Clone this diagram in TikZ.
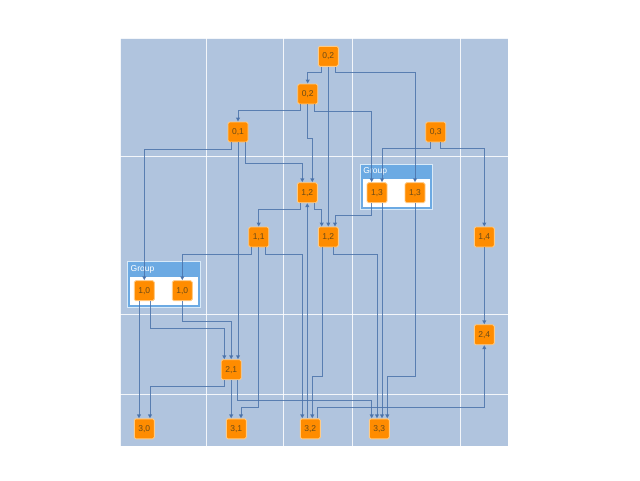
\documentclass[tikz,border=0pt]{standalone}
\usepackage{fontspec}
\setsansfont{Liberation Sans}
\usetikzlibrary{arrows.meta}
\definecolor{bgc}{HTML}{B0C4DE}
\definecolor{grpc}{HTML}{6CAAE3}
\definecolor{grpb}{HTML}{D8EAF9}
\definecolor{nodec}{HTML}{FF8C00}
\definecolor{nodeb}{HTML}{FFCB85}
\definecolor{edgec}{HTML}{4A72AA}
\definecolor{txtc}{HTML}{6A4A18}
\tikzset{
  nd/.style={rectangle, rounded corners=1.5pt, minimum size=20pt, inner sep=0pt,
    fill=nodec, draw=nodeb, line width=0.9pt, text=txtc,
    font=\sffamily\fontsize{8.5}{10}\selectfont},
  e/.style={draw=edgec, line width=1pt, draw opacity=0.85,
    -{Triangle[width=4pt,length=4pt]}},
  gridl/.style={draw=white, line width=0.8pt, opacity=0.85},
  grpouter/.style={fill=grpc, draw=grpb, line width=0.8pt},
  grpinner/.style={fill=white, draw=none},
  grplabel/.style={anchor=west, inner sep=0pt, text=white, font=\sffamily\fontsize{8.5}{10}\selectfont}
}
\begin{document}
\begin{tikzpicture}[x=1pt,y=-1pt]
\useasboundingbox (0,0) rectangle (640,480);
% background
\fill[bgc] (120,38) rectangle (508,446);
\foreach \gx in {120.5,206.7,283.3,352.3,460.3} \draw[gridl] (\gx,38) -- (\gx,446);
\foreach \gy in {38.5,156.3,314,394.3} \draw[gridl] (120,\gy) -- (508,\gy);
% groups
\draw[grpouter] (360,164) rectangle (432.3,209.5);
\fill[grpinner] (362.5,179) rectangle (429.8,207.2);
\node[grplabel] (g1) at (363.2,171) {Group};
\draw[grpouter] (127.5,261.3) rectangle (200,307.3);
\fill[grpinner] (130,276.7) rectangle (197.6,304.8);
\node[grplabel] (g2) at (130.5,269) {Group};
% nodes
\node[nd] (n02t) at (328.3,56.3) {0,2};
\node[nd] (n02) at (307.7,94) {0,2};
\node[nd] (n01) at (238,132) {0,1};
\node[nd] (n03) at (435.7,132) {0,3};
\node[nd] (n12a) at (307.3,192.7) {1,2};
\node[nd] (n13a) at (377,192.7) {1,3};
\node[nd] (n13b) at (415,192.7) {1,3};
\node[nd] (n11) at (258.7,237) {1,1};
\node[nd] (n12b) at (328.3,237) {1,2};
\node[nd] (n14) at (484.3,237) {1,4};
\node[nd] (n10a) at (144.3,290.7) {1,0};
\node[nd] (n10b) at (182.3,290.7) {1,0};
\node[nd] (n24) at (484.3,334.7) {2,4};
\node[nd] (n21) at (231.2,369.7) {2,1};
\node[nd] (n30) at (144.3,428.8) {3,0};
\node[nd] (n31) at (236.3,428.8) {3,1};
\node[nd] (n32) at (310.3,428.8) {3,2};
\node[nd] (n33) at (379.3,428.8) {3,3};
% edges
\draw[e] ([xshift=-6.6]n02t.south) -- ++(0,6.2) -| (n02.north);
\draw[e] (n02t.south) -- (n12b.north);
\draw[e] ([xshift=6.7]n02t.south) -- ++(0,6.2) -| (n13b.north);
\draw[e] ([xshift=-7.4]n02.south) -- ++(0,6.5) -| (n01.north);
\draw[e] (n02.south) -- ++(0,34.5) -| ([xshift=5]n12a.north);
\draw[e] ([xshift=6.6]n02.south) -- ++(0,6.8) -| ([xshift=-5.3]n13a.north);
\draw[e] ([xshift=-7]n01.south) -- ++(0,7.2) -| (n10a.north);
\draw[e] (n01.south) -- ([xshift=6.8]n21.north);
\draw[e] ([xshift=7]n01.south) -- ++(0,21.2) -| ([xshift=-5]n12a.north);
\draw[e] ([xshift=-5]n03.south) -- ++(0,6.5) -| ([xshift=5]n13a.north);
\draw[e] ([xshift=5]n03.south) -- ++(0,6.5) -| (n14.north);
\draw[e] ([xshift=-7]n12a.south) -- ++(0,6.8) -| (n11.north);
\draw[e] ([xshift=7]n12a.south) -- ++(0,6.8) -| ([xshift=-6.6]n12b.north);
\draw[e] ([xshift=-3]n32.north) -- (n12a.south);
\draw[e] ([xshift=-5.6]n12b.south) -- ++(0,129.2) -| ([xshift=2]n32.north);
\draw[e] ([xshift=5]n12b.south) -- ++(0,6.8) -| ([xshift=-2.3]n33.north);
\draw[e] ([xshift=-5.3]n13a.south) -- ++(0,12.8) -| ([xshift=6.7]n12b.north);
\draw[e] ([xshift=5]n13a.south) -- ([xshift=2.7]n33.north);
\draw[e] (n13b.south) -- ++(0,173.5) -| ([xshift=8]n33.north);
\draw[e] (n14.south) -- (n24.north);
\draw[e] ([xshift=7.4]n32.north) -- ++(0,-10.6) -| (n24.south);
\draw[e] ([xshift=-7]n11.south) -- ++(0,6.8) -| (n10b.north);
\draw[e] (n11.south) -- ++(0,160.2) -| ([xshift=4.7]n31.north);
\draw[e] ([xshift=7]n11.south) -- ++(0,6.8) -| ([xshift=-8]n32.north);
\draw[e] ([xshift=-5.3]n10a.south) -- ([xshift=-5.3]n30.north);
\draw[e] ([xshift=5.7]n10a.south) -- ++(0,27.1) -| ([xshift=-6.9]n21.north);
\draw[e] (n10b.south) -- ++(0,20.5) -| (n21.north);
\draw[e] ([xshift=-6.9]n21.south) -- ++(0,6.8) -| ([xshift=5.7]n30.north);
\draw[e] (n21.south) -- ([xshift=-5.1]n31.north);
\draw[e] ([xshift=6.5]n21.south) -- ++(0,20.2) -| ([xshift=-7.6]n33.north);
\end{tikzpicture}
\end{document}
